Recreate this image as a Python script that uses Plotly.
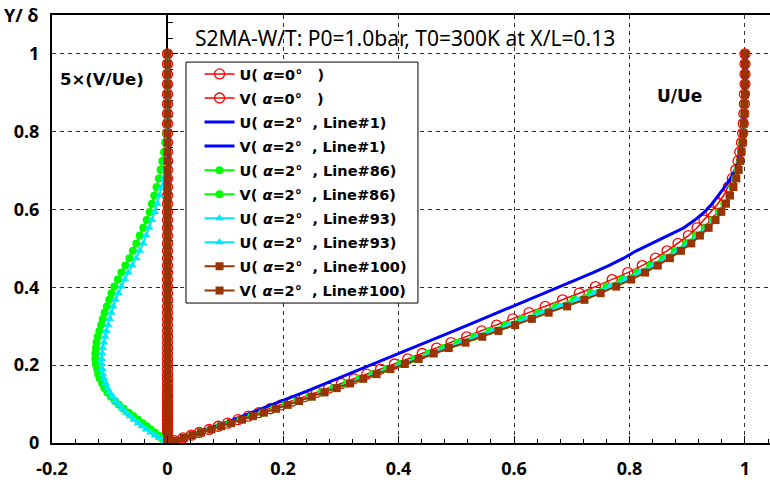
import plotly.graph_objects as go

# Wall-normal coordinate Y/delta of the profile grid
Y = [0.000, 0.006, 0.013, 0.020, 0.027, 0.035, 0.043, 0.051, 0.060, 0.069,
     0.078, 0.088, 0.098, 0.108, 0.119, 0.130, 0.141, 0.153, 0.165, 0.177,
     0.190, 0.203, 0.216, 0.230, 0.244, 0.258, 0.273, 0.288, 0.303, 0.319,
     0.335, 0.351, 0.368, 0.385, 0.402, 0.420, 0.438, 0.456, 0.475, 0.494,
     0.513, 0.533, 0.553, 0.573, 0.594, 0.615, 0.636, 0.658, 0.680, 0.702,
     0.725, 0.748, 0.772, 0.796, 0.821, 0.846, 0.871, 0.896, 0.922, 0.948,
     0.974, 1.000]

# U/Ue, alpha = 0 deg
U_A0 = [0.000, 0.012, 0.027, 0.041, 0.055, 0.072, 0.088, 0.104, 0.122, 0.140,
        0.158, 0.178, 0.197, 0.216, 0.237, 0.258, 0.279, 0.301, 0.323, 0.345,
        0.369, 0.393, 0.416, 0.441, 0.466, 0.491, 0.518, 0.544, 0.570, 0.598,
        0.626, 0.654, 0.684, 0.713, 0.741, 0.770, 0.797, 0.822, 0.845, 0.865,
        0.884, 0.902, 0.917, 0.929, 0.941, 0.953, 0.963, 0.971, 0.978, 0.984,
        0.988, 0.991, 0.994, 0.996, 0.997, 0.998, 0.999, 0.999, 1.000, 1.000,
        1.000, 1.000]
# 5*(V/Ue), alpha = 0 deg
V_A0 = [0.000, 0.000, 0.000, 0.000, 0.000, 0.000, 0.000, 0.000, 0.000, 0.000,
        0.000, 0.000, 0.000, 0.000, 0.000, 0.000, 0.000, 0.000, 0.000, 0.000,
        0.000, 0.000, 0.000, 0.000, 0.000, 0.000, 0.000, 0.000, 0.000, 0.000,
        0.000, 0.000, 0.000, 0.000, 0.000, 0.000, 0.000, 0.000, 0.000, 0.000,
        0.000, 0.000, 0.000, 0.000, 0.000, 0.000, 0.000, 0.000, 0.000, 0.000,
        0.000, 0.000, 0.000, 0.000, 0.000, 0.000, 0.000, 0.000, 0.000, 0.000,
        0.000, 0.000]

# alpha = 2 deg, Line#1
U_L1 = [0.000, 0.012, 0.026, 0.040, 0.053, 0.068, 0.083, 0.098, 0.114, 0.130,
        0.146, 0.164, 0.181, 0.198, 0.217, 0.236, 0.254, 0.274, 0.294, 0.314,
        0.335, 0.356, 0.378, 0.401, 0.424, 0.447, 0.471, 0.496, 0.520, 0.546,
        0.572, 0.598, 0.626, 0.653, 0.681, 0.709, 0.737, 0.764, 0.790, 0.812,
        0.839, 0.867, 0.894, 0.913, 0.930, 0.943, 0.954, 0.965, 0.975, 0.983,
        0.988, 0.992, 0.995, 0.997, 0.998, 0.999, 0.999, 1.000, 1.000, 1.000,
        1.000, 1.000]
V_L1 = [0.000, 0.000, 0.000, 0.000, 0.000, 0.000, 0.000, 0.000, 0.000, 0.000,
        0.000, 0.000, 0.000, 0.000, 0.000, 0.000, 0.000, 0.000, 0.000, 0.000,
        0.000, 0.000, 0.000, 0.000, 0.000, 0.000, 0.000, 0.000, 0.000, 0.000,
        0.000, 0.000, 0.000, 0.000, 0.000, 0.000, 0.000, 0.000, 0.000, 0.000,
        0.000, 0.000, 0.000, 0.000, 0.000, 0.000, 0.000, 0.000, 0.000, 0.000,
        0.000, 0.000, 0.000, 0.000, 0.000, 0.000, 0.000, 0.000, 0.000, 0.000,
        0.000, 0.000]

# alpha = 2 deg, Line#86
U_L86 = [0.000, 0.013, 0.028, 0.043, 0.057, 0.074, 0.091, 0.107, 0.126, 0.145,
         0.164, 0.184, 0.204, 0.224, 0.245, 0.266, 0.287, 0.310, 0.332, 0.355,
         0.379, 0.403, 0.427, 0.452, 0.478, 0.503, 0.531, 0.558, 0.586, 0.614,
         0.643, 0.673, 0.704, 0.733, 0.760, 0.787, 0.813, 0.836, 0.859, 0.879,
         0.898, 0.915, 0.931, 0.944, 0.955, 0.964, 0.972, 0.978, 0.983, 0.987,
         0.991, 0.993, 0.995, 0.997, 0.998, 0.999, 0.999, 1.000, 1.000, 1.000,
         1.000, 1.000]
V_L86 = [0.000, -0.004, -0.010, -0.016, -0.022, -0.029, -0.036, -0.043, -0.051, -0.059,
         -0.067, -0.076, -0.084, -0.091, -0.098, -0.104, -0.109, -0.113, -0.117, -0.120,
         -0.122, -0.124, -0.125, -0.125, -0.124, -0.123, -0.121, -0.118, -0.115, -0.112,
         -0.109, -0.105, -0.101, -0.097, -0.092, -0.086, -0.080, -0.073, -0.066, -0.060,
         -0.054, -0.048, -0.042, -0.036, -0.031, -0.027, -0.023, -0.019, -0.015, -0.012,
         -0.009, -0.006, -0.004, -0.002, -0.001, -0.001, 0.000, 0.000, 0.000, 0.000,
         0.000, 0.000]

# alpha = 2 deg, Line#93
U_L93 = [0.000, 0.013, 0.028, 0.043, 0.058, 0.075, 0.092, 0.109, 0.128, 0.147,
         0.166, 0.186, 0.206, 0.226, 0.248, 0.269, 0.290, 0.313, 0.335, 0.358,
         0.382, 0.407, 0.431, 0.456, 0.482, 0.508, 0.536, 0.563, 0.591, 0.620,
         0.649, 0.679, 0.709, 0.738, 0.766, 0.792, 0.818, 0.841, 0.863, 0.883,
         0.902, 0.918, 0.934, 0.946, 0.957, 0.966, 0.973, 0.979, 0.984, 0.988,
         0.991, 0.994, 0.996, 0.997, 0.998, 0.999, 0.999, 1.000, 1.000, 1.000,
         1.000, 1.000]
V_L93 = [0.000, -0.006, -0.014, -0.021, -0.029, -0.037, -0.044, -0.051, -0.058, -0.065,
         -0.071, -0.078, -0.084, -0.090, -0.095, -0.100, -0.104, -0.107, -0.110, -0.112,
         -0.113, -0.114, -0.114, -0.113, -0.112, -0.110, -0.108, -0.106, -0.103, -0.100,
         -0.097, -0.094, -0.090, -0.085, -0.080, -0.074, -0.068, -0.061, -0.054, -0.048,
         -0.042, -0.037, -0.032, -0.027, -0.022, -0.018, -0.014, -0.010, -0.007, -0.005,
         -0.003, -0.002, -0.001, 0.000, 0.000, 0.000, 0.000, 0.000, 0.000, 0.000,
         0.000, 0.000]

# alpha = 2 deg, Line#100
U_L100 = [0.000, 0.013, 0.028, 0.043, 0.058, 0.076, 0.093, 0.110, 0.129, 0.148,
          0.167, 0.188, 0.208, 0.228, 0.250, 0.272, 0.293, 0.316, 0.339, 0.362,
          0.386, 0.411, 0.435, 0.461, 0.487, 0.516, 0.545, 0.573, 0.602, 0.631,
          0.660, 0.692, 0.722, 0.750, 0.777, 0.803, 0.827, 0.849, 0.870, 0.889,
          0.907, 0.922, 0.937, 0.949, 0.959, 0.967, 0.974, 0.980, 0.985, 0.989,
          0.992, 0.994, 0.996, 0.997, 0.998, 0.999, 0.999, 1.000, 1.000, 1.000,
          1.000, 1.000]
V_L100 = [0.000, 0.000, 0.000, 0.000, 0.000, 0.000, 0.000, 0.000, 0.000, 0.000,
          0.000, 0.000, 0.000, 0.000, 0.000, 0.000, 0.000, 0.000, 0.000, 0.000,
          0.000, 0.000, 0.000, 0.000, 0.000, 0.000, 0.000, 0.000, 0.000, 0.000,
          0.000, 0.000, 0.000, 0.000, 0.000, 0.000, 0.000, 0.000, 0.000, 0.000,
          0.000, 0.000, 0.000, 0.000, 0.000, 0.000, 0.000, 0.000, 0.000, 0.000,
          0.000, 0.000, 0.000, 0.000, 0.000, 0.000, 0.000, 0.000, 0.000, 0.000,
          0.000, 0.000]

X_TICKS = [-0.2, 0, 0.2, 0.4, 0.6, 0.8, 1]
X_TICKTEXT = ["-0.2", "0", "0.2", "0.4", "0.6", "0.8", "1"]
Y_TICKS = [0, 0.2, 0.4, 0.6, 0.8, 1]
Y_TICKTEXT = ["0", "0.2", "0.4", "0.6", "0.8", "1"]

FONT = "Noto Sans"
WIDE_FONT = "DejaVu Sans"
SP = "\u00a0"

RED = "#ff0000"
BLUE = "#0000ff"
GREEN = "#00ff00"
CYAN = "#00e8ff"
BROWN = "#993300"


def label(comp, alpha, line=None):
    tail = f"{SP}{SP}, Line#{line})" if line else f"{SP}{SP}{SP})"
    return f"<b>{comp}({SP}<i>α</i>={alpha}°{tail}</b>"


series = [
    (U_A0, label("U", 0), dict(color=RED, width=1.5),
     dict(symbol="circle-open", size=10, color=RED, line=dict(width=1.3))),
    (V_A0, label("V", 0), dict(color=RED, width=1.5),
     dict(symbol="circle-open", size=10, color=RED, line=dict(width=1.3))),
    (U_L1, label("U", 2, 1), dict(color=BLUE, width=3), None),
    (V_L1, label("V", 2, 1), dict(color=BLUE, width=3), None),
    (U_L86, label("U", 2, 86), dict(color=GREEN, width=2),
     dict(symbol="circle", size=8, color=GREEN)),
    (V_L86, label("V", 2, 86), dict(color=GREEN, width=2),
     dict(symbol="circle", size=8, color=GREEN)),
    (U_L93, label("U", 2, 93), dict(color=CYAN, width=2),
     dict(symbol="triangle-up", size=8, color=CYAN)),
    (V_L93, label("U", 2, 93), dict(color=CYAN, width=2),
     dict(symbol="triangle-up", size=8, color=CYAN)),
    (U_L100, label("U", 2, 100), dict(color=BROWN, width=2),
     dict(symbol="square", size=8, color=BROWN)),
    (V_L100, label("V", 2, 100), dict(color=BROWN, width=2),
     dict(symbol="square", size=8, color=BROWN)),
]

fig = go.Figure()
for i, (xs, name, line, marker) in enumerate(series):
    fig.add_trace(go.Scatter(
        x=xs, y=Y, name=name, legendgroup=f"g{i}",
        mode="lines+markers" if marker else "lines",
        line=line, marker=marker,
    ))

# carrier for the vertical axis drawn through x = 0
fig.add_trace(go.Scatter(x=[None], y=[None], yaxis="y2", showlegend=False,
                         hoverinfo="skip"))

XR = [-0.2, 1.0433]
YR = [0, 1.1]
GRID = "#303030"

fig.update_layout(
    width=770, height=488,
    margin=dict(l=52, r=0, t=15, b=45),
    paper_bgcolor="white", plot_bgcolor="white",
    font=dict(family=FONT, size=18, color="black"),
    showlegend=True,
    legend=dict(
        x=0.2055, y=0.8995, xanchor="left", yanchor="top",
        bgcolor="rgba(0,0,0,0)", borderwidth=0,
        font=dict(family=WIDE_FONT, size=14.5, color="black"),
        itemwidth=30, tracegroupgap=2.2,
    ),
    xaxis=dict(
        range=XR, showline=True, linecolor="black", linewidth=2,
        mirror=True, ticks="inside", ticklen=7, tickwidth=1, tickcolor="black",
        tickvals=X_TICKS, ticktext=[f"<b>{t}</b>" for t in X_TICKTEXT],
        showgrid=True, gridcolor=GRID, griddash="4px,4px", gridwidth=1,
        minor=dict(dtick=0.04, tick0=0, ticks="inside", ticklen=4,
                   tickcolor="black", showgrid=False),
        zeroline=False, ticklabelstandoff=8,
        tickfont=dict(family=FONT, size=18),
    ),
    yaxis=dict(
        range=YR, showline=True, linecolor="black", linewidth=2,
        ticks="", tickvals=Y_TICKS, ticktext=[f"<b>{t}</b>" for t in Y_TICKTEXT],
        showgrid=True, gridcolor=GRID, griddash="4px,4px", gridwidth=1,
        zeroline=False, tickfont=dict(family=FONT, size=18),
        ticklabelstandoff=7,
    ),
    yaxis2=dict(
        range=YR, overlaying="y", anchor="free", position=(0 - XR[0]) / (XR[1] - XR[0]),
        side="right", showline=True, linecolor="black", linewidth=2,
        ticks="outside", ticklen=10, tickcolor="black", dtick=0.2, tick0=0,
        minor=dict(dtick=0.04, tick0=0, ticks="outside", ticklen=5,
                   tickcolor="black", showgrid=False),
        showticklabels=False, showgrid=False, zeroline=False,
        layer="below traces",
    ),
    # legend frame
    shapes=[dict(type="rect", xref="paper", yref="paper",
                 x0=0.1866, x1=0.5097, y0=0.327, y1=0.890,
                 line=dict(color="black", width=1), fillcolor="white",
                 layer="above")],
)

fig.add_annotation(x=0.412, y=1.04, xref="x", yref="y",
                   text="S2MA-W/T: P0=1.0bar, T0=300K at X/L=0.13",
                   showarrow=False, xanchor="center", yanchor="middle",
                   font=dict(family=FONT, size=21, color="black"))
fig.add_annotation(x=0.0, y=1.0, xref="paper", yref="paper",
                   xshift=-50, text="<b>Y/ δ</b>", showarrow=False,
                   xanchor="left", yanchor="middle",
                   font=dict(family=FONT, size=18, color="black"))
fig.add_annotation(x=-0.19, y=0.933, xref="x", yref="y",
                   text="<b>5×(V/Ue)</b>", showarrow=False,
                   xanchor="left", yanchor="middle",
                   font=dict(family=WIDE_FONT, size=16.5, color="black"))
fig.add_annotation(x=0.887, y=0.892, xref="x", yref="y",
                   text="<b>U/Ue</b>", showarrow=False,
                   xanchor="center", yanchor="middle",
                   font=dict(family=WIDE_FONT, size=17, color="black"))

fig.write_html("out.html")
